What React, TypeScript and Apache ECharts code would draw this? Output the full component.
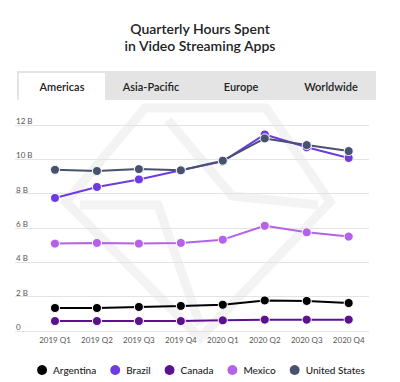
import React, { useEffect, useRef } from "react";
import * as echarts from "echarts";

const quarters = ["2019 Q1", "2019 Q2", "2019 Q3", "2019 Q4", "2020 Q1", "2020 Q2", "2020 Q3", "2020 Q4"];
const argentina = [1.34, 1.34, 1.4, 1.46, 1.53, 1.78, 1.75, 1.63];
const brazil = [7.75, 8.39, 8.83, 9.36, 9.88, 11.45, 10.7, 10.08];
const canada = [0.58, 0.58, 0.58, 0.58, 0.62, 0.66, 0.66, 0.66];
const mexico = [5.09, 5.13, 5.09, 5.13, 5.32, 6.13, 5.75, 5.5];
const unitedStates = [9.39, 9.32, 9.43, 9.36, 9.92, 11.22, 10.83, 10.48];
const tabs = ["Americas", "Asia-Pacific", "Europe", "Worldwide"];
const yTicks = [0, 2, 4, 6, 8, 10, 12];

const seriesDefs = [
  { name: "Argentina", data: argentina, color: "#000000" },
  { name: "Brazil", data: brazil, color: "#6f3be0" },
  { name: "Canada", data: canada, color: "#5c1190" },
  { name: "Mexico", data: mexico, color: "#b462e6" },
  { name: "United States", data: unitedStates, color: "#47526e" },
];

const FONT = "Lato, 'Open Sans', sans-serif";

export default function App() {
  const ref = useRef<HTMLDivElement>(null);
  useEffect(() => {
    document.body.style.margin = "0";
    const chart = echarts.init(ref.current!, null, { renderer: "svg" });
    const tabW = 88;
    const wm = "#f3f3f3";
    const graphics: any[] = [
      { type: "rect", shape: { x: 17, y: 71, width: 359, height: 29 }, style: { fill: "#e4e4e4" }, z: -5 },
      { type: "rect", shape: { x: 19, y: 73, width: tabW - 2, height: 28 }, style: { fill: "#ffffff" }, z: -4 },
      {
        type: "polygon",
        shape: { points: [[145, 108], [266, 108], [330, 202], [200, 338], [66, 202]] },
        style: { fill: "none", stroke: wm, lineWidth: 9 },
        z: -10,
      },
      {
        type: "polyline",
        shape: { points: [[80, 205], [158, 205], [200, 325]] },
        style: { fill: "none", stroke: wm, lineWidth: 9 },
        z: -10,
      },
      {
        type: "polyline",
        shape: { points: [[168, 120], [232, 196], [318, 205]] },
        style: { fill: "none", stroke: wm, lineWidth: 9 },
        z: -10,
      },
    ];
    const tabCenters = [62, 151, 241, 331];
    tabs.forEach((t, i) => {
      graphics.push({
        type: "text",
        x: tabCenters[i],
        y: 86,
        style: { text: t, fill: "#222", font: `600 11px ${FONT}`, textAlign: "center", textVerticalAlign: "middle" },
        z: -3,
      });
    });

    chart.setOption({
      animation: false,
      textStyle: { fontFamily: FONT },
      title: {
        text: "Quarterly Hours Spent\nin Video Streaming Apps",
        left: "center",
        top: 15,
        textStyle: { fontSize: 14, fontWeight: 600, color: "#222", lineHeight: 17, fontFamily: FONT },
      },
      graphic: graphics,
      grid: { left: 15, right: 31, top: 125, bottom: 51 },
      xAxis: {
        type: "value",
        min: -0.953,
        max: 7.484,
        axisLine: { show: false },
        axisTick: { show: false },
        splitLine: { show: false },
        axisLabel: {
          customValues: quarters.map((_, i) => i),
          formatter: (v: number) => quarters[Math.round(v)] ?? "",
          fontSize: 8,
          color: "#555",
          margin: 5,
        },
      },
      yAxis: {
        type: "value",
        min: 0,
        max: 12,
        interval: 2,
        axisLine: { show: false },
        axisTick: { show: false },
        splitLine: { lineStyle: { color: "#e3e3e3", width: 1 } },
        axisLabel: {
          inside: true,
          margin: 1,
          verticalAlign: "bottom",
          fontSize: 8,
          color: "#555",
          formatter: (v: number) => (yTicks.includes(v) ? (v === 0 ? "0" : `${v} B`) : ""),
        },
      },
      legend: {
        top: 358,
        left: "center",
        icon: "circle",
        itemWidth: 12,
        itemHeight: 12,
        itemGap: 12,
        textStyle: { fontSize: 10, color: "#222", fontWeight: 500 },
        data: seriesDefs.map((s) => s.name),
      },
      series: seriesDefs.map((s) => ({
        name: s.name,
        type: "line",
        data: s.data.map((v, i) => [i, v]),
        color: s.color,
        symbol: "circle",
        symbolSize: 9,
        lineStyle: { width: 2, color: s.color },
        itemStyle: { color: s.color, borderColor: "#fff", borderWidth: 1 },
      })),
    });
    return () => chart.dispose();
  }, []);
  return <div ref={ref} style={{ width: 400, height: 382 }} />;
}
